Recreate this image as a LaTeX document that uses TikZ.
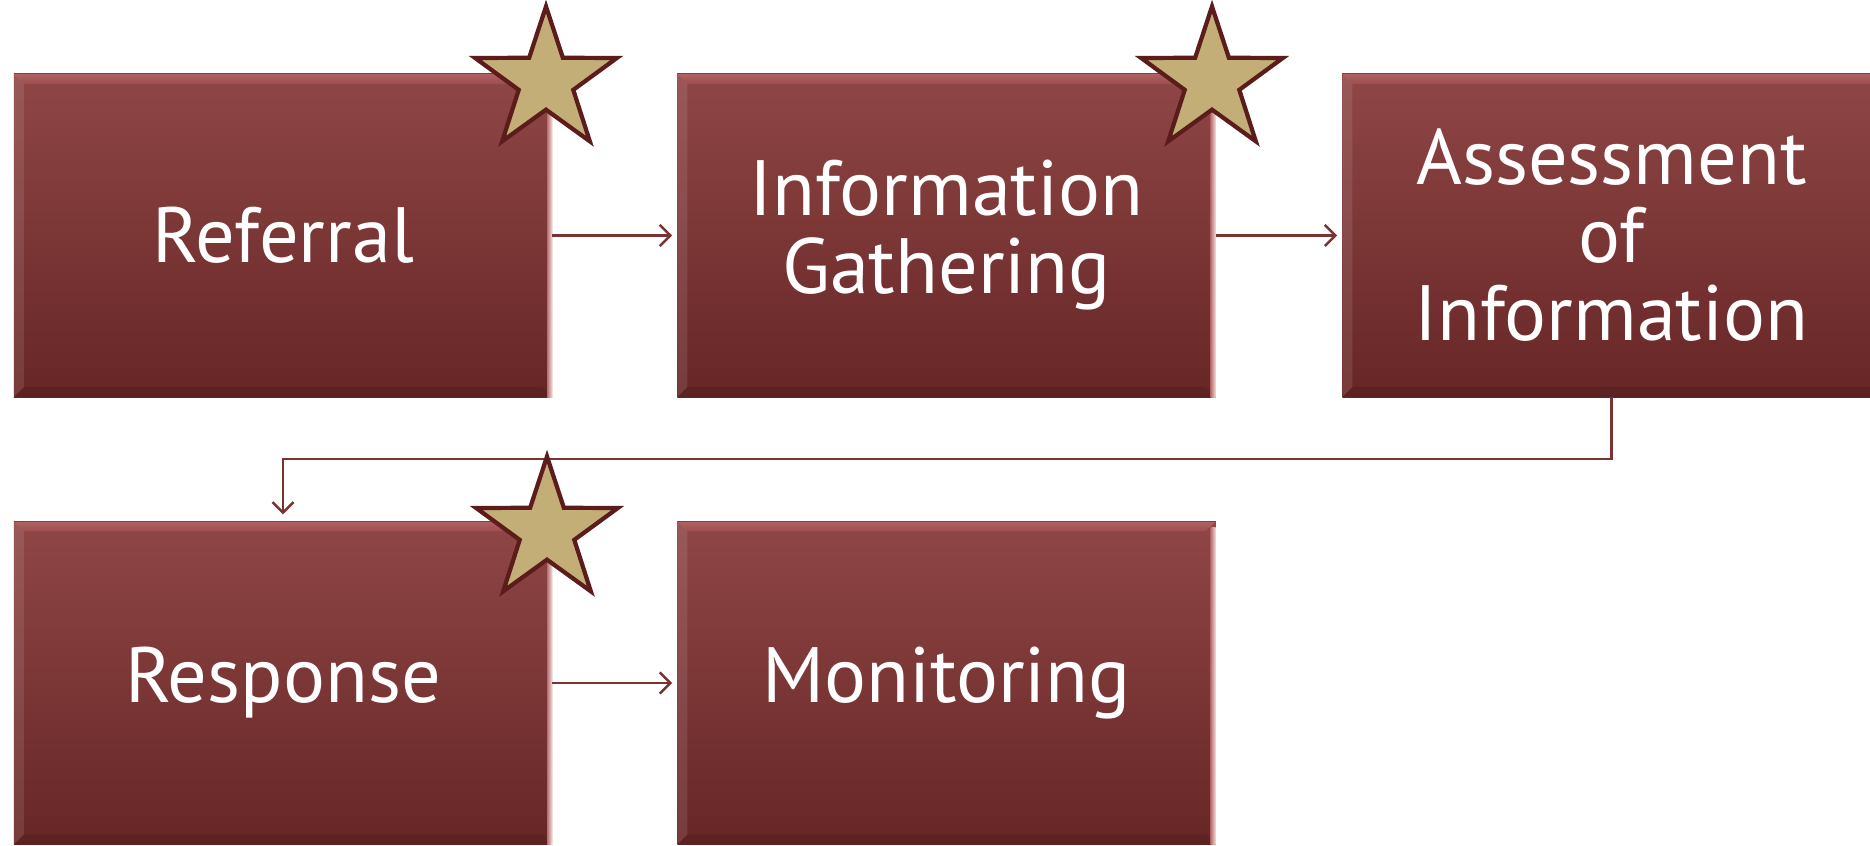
\documentclass[tikz,border=0pt]{standalone}
\usepackage{fontspec}
\setmainfont{PT Sans}
\usetikzlibrary{shapes.geometric,arrows.meta,calc,backgrounds}
\definecolor{boxtop}{HTML}{8F4646}
\definecolor{boxbot}{HTML}{672626}
\definecolor{lnk}{HTML}{7A3232}
\definecolor{starfill}{HTML}{C4AE78}
\definecolor{stardraw}{HTML}{5C1C1C}
\definecolor{bevhi}{HTML}{EBA8A8}
\definecolor{bevlo}{HTML}{B06262}
\definecolor{bevbot}{HTML}{9C4D4D}
\definecolor{edgelo}{HTML}{B87070}
\definecolor{edgehi}{HTML}{F6DCDC}
\begin{document}
\begin{tikzpicture}[x=0.01cm,y=-0.01cm,
  stepbox/.style={rectangle, minimum width=5.38cm, minimum height=3.23cm, inner sep=0pt, outer sep=0pt,
    top color=boxtop, bottom color=boxbot, text=white, align=center,
    font=\fontsize{22.3}{22.2}\selectfont},
  conn/.style={draw=lnk, line width=0.7pt, -{Straight Barb[length=3pt,width=6pt]}},
  starmark/.style={star, star points=5, star point ratio=2.6, minimum size=1.49cm, inner sep=0pt,
    fill=starfill, draw=stardraw, line width=1.2pt}]
\useasboundingbox (0,0) rectangle (1870,846);
\clip (0,0) rectangle (1870,846);
\fill[white] (0,0) rectangle (1870,846);

\node[stepbox] (ref)    at (283,235.5)    {Referral};
\node[stepbox] (info)   at (946.5,235.5)  {Information\\Gathering};
\node[stepbox] (assess) at (1611.5,235.5) {Assessment\\of\\Information};
\node[stepbox] (resp)   at (283,683)      {Response};
\node[stepbox] (mon)    at (946.5,683)    {Monitoring};

\foreach \n in {ref,info,assess,resp,mon}{
  \shade[top color=bevlo, middle color=bevhi, bottom color=bevbot]
    (\n.north west) -- (\n.north east) -- ($(\n.north east)+(-10,10)$) -- ($(\n.north west)+(10,10)$) -- cycle;
  \draw[boxtop!90!black, line width=0.3pt] (\n.north west) -- (\n.north east);
  \fill[white,opacity=0.10]
    (\n.north west) -- ($(\n.north west)+(10,10)$) -- ($(\n.south west)+(10,-10)$) -- (\n.south west) -- cycle;
  \fill[black,opacity=0.10]
    (\n.south west) -- ($(\n.south west)+(10,-10)$) -- ($(\n.south east)+(-10,-10)$) -- (\n.south east) -- cycle;
  \shade[left color=edgelo, right color=edgehi]
    ($(\n.north east)+(-5,6)$) rectangle (\n.south east);
}

\begin{scope}[on background layer]
\foreach \n in {ref,info,assess,resp,mon}{
  \fill[black,opacity=0.10] ($(\n.north west)+(2,4)$) rectangle ($(\n.south east)+(5,9)$);
  \fill[black,opacity=0.15] ($(\n.north west)+(1,2)$) rectangle ($(\n.south east)+(3,5)$);
}
\end{scope}

\draw[conn, shorten >=1.5pt] (ref) -- (info);
\draw[conn, shorten >=1.5pt] (info) -- (assess);
\draw[conn, shorten >=1.5pt] (resp) -- (mon);
\draw[conn, shorten >=2pt] (assess.south) -- ++(0,62) -| (resp.north);

\node[starmark] (s1) at (546,81) {};
\node[starmark] (s2) at (1212,81) {};
\node[starmark] (s3) at (547,531) {};
\end{tikzpicture}
\end{document}
